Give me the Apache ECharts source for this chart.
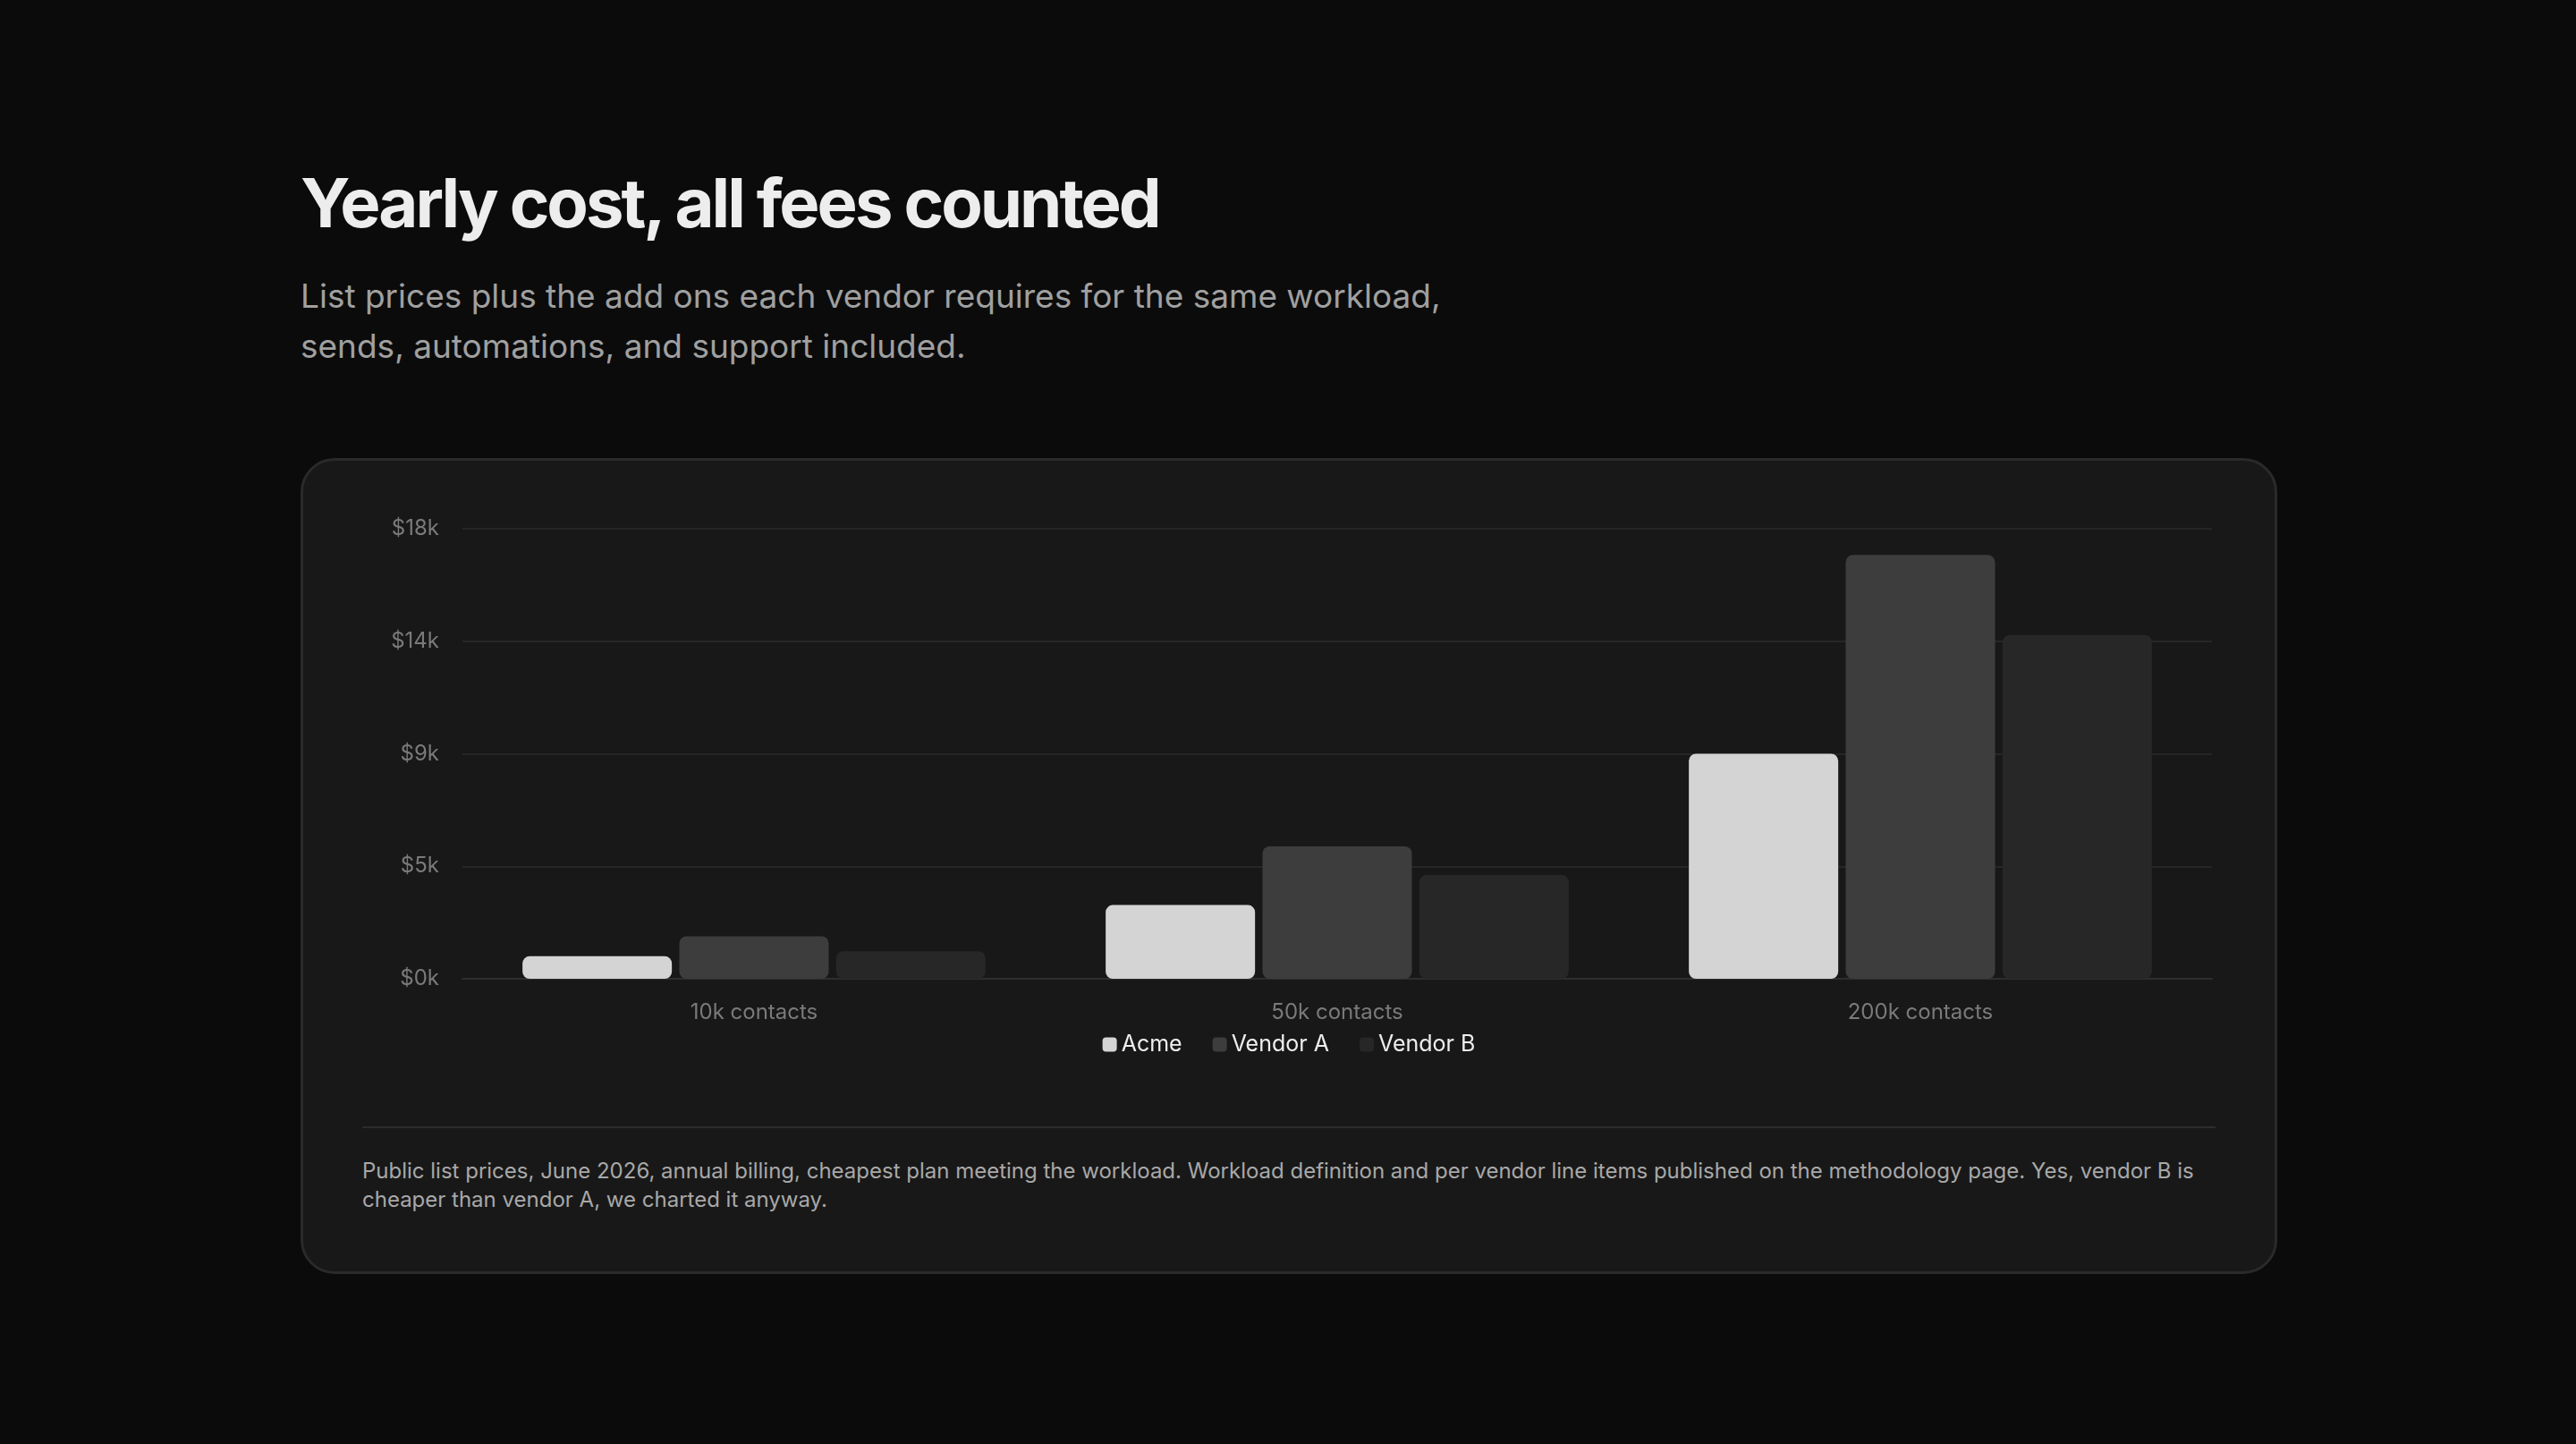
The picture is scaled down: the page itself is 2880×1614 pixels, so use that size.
<!DOCTYPE html>
<html>
<head>
<meta charset="utf-8">
<script src="https://cdn.jsdelivr.net/npm/echarts@6/dist/echarts.min.js"></script>
<style>
	html, body { margin: 0; padding: 0; background: #0b0b0b; width: 2880px; height: 1614px; overflow: hidden; font-family: Inter, "Noto Sans", sans-serif; }
	#title { position: absolute; left: 336px; top: 180px; color: #ededed; font-size: 76px; font-weight: 700; letter-spacing: -3px; margin: 0; }
	#subtitle { position: absolute; left: 336px; top: 303px; color: #a0a0a0; font-size: 37px; line-height: 56px; width: 1400px; margin: 0; }
	#card { position: absolute; left: 336px; top: 512px; width: 2204px; height: 906px; background: #181818; border: 3px solid #2a2a2a; border-radius: 38px; }
	#chart { position: absolute; left: 0; top: 0; width: 2204px; height: 740px; }
	#rule { position: absolute; left: 66px; right: 66px; top: 744px; height: 2px; background: #2c2c2c; }
	#note { position: absolute; left: 66px; right: 80px; top: 778px; color: #a8a8a8; font-size: 24px; line-height: 32px; }
</style>
</head>
<body>
<h1 id="title">Yearly cost, all fees counted</h1>
<p id="subtitle">List prices plus the add ons each vendor requires for the same workload,<br>sends, automations, and support included.</p>
<div id="card">
	<div id="chart"></div>
	<div id="rule"></div>
	<div id="note">Public list prices, June 2026, annual billing, cheapest plan meeting the workload. Workload definition and per vendor line items published on the methodology page. Yes, vendor B is cheaper than vendor A, we charted it anyway.</div>
</div>
<script>
	var categories = ['10k contacts', '50k contacts', '200k contacts'];
	var acme = [900, 2950, 9000];
	var vendorA = [1700, 5300, 16950];
	var vendorB = [1100, 4150, 13750];

	var myChart = echarts.init(document.getElementById('chart'));
	var barStyle = function (color) {
		return { color: color, borderRadius: 8 };
	};
	var option = {
		animation: false,
		grid: { left: 178, right: 70, top: 76, bottom: 161 },
		legend: {
			bottom: 70,
			left: 'center',
			itemWidth: 16,
			itemHeight: 16,
			itemGap: 34,
			icon: 'roundRect',
			textStyle: { color: '#eeeeee', fontSize: 25, fontFamily: 'Inter' },
			data: ['Acme', 'Vendor A', 'Vendor B']
		},
		xAxis: {
			type: 'category',
			data: categories,
			axisLine: { lineStyle: { color: '#2e2e2e', width: 2 } },
			axisTick: { show: false },
			axisLabel: { color: '#7a7a7a', fontSize: 24, margin: 26, fontFamily: 'Inter' }
		},
		yAxis: {
			type: 'value',
			min: 0,
			max: 18000,
			interval: 4500,
			axisLine: { show: false },
			axisTick: { show: false },
			splitLine: { lineStyle: { color: '#262626', width: 2 } },
			axisLabel: {
				color: '#7a7a7a', fontSize: 24, margin: 26, fontFamily: 'Inter',
				formatter: function (v) { return '$' + (v / 1000).toFixed(0) + 'k'; }
			}
		},
		series: [
			{ name: 'Acme', type: 'bar', data: acme, barWidth: 167, barGap: '5%', itemStyle: barStyle('#d4d4d4') },
			{ name: 'Vendor A', type: 'bar', data: vendorA, barWidth: 167, itemStyle: barStyle('#3d3d3d') },
			{ name: 'Vendor B', type: 'bar', data: vendorB, barWidth: 167, itemStyle: barStyle('#272727') }
		]
	};
	myChart.setOption(option);
</script>
</body>
</html>
